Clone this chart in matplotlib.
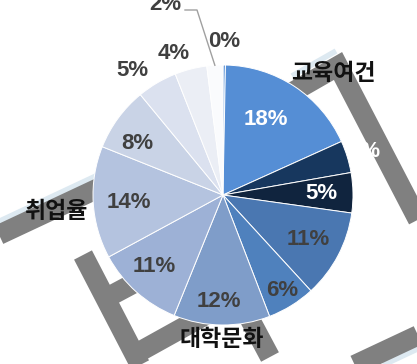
import matplotlib.pyplot as plt
import numpy as np

# 항목별 비율 (시계 방향, 12시 방향부터)
values = [0.3, 18, 4, 5, 11, 6, 12, 11, 14, 8, 5, 4, 2]
colors = ['#558ed5', '#558ed5', '#17375e', '#10243e', '#4a77b1', '#4f81bd',
          '#7f9dc9', '#9db1d6', '#b4c3df', '#c9d3e6', '#dbe1ef', '#ebeef5', '#fafbfd']
label_colors = ['#404040', 'white', 'white', 'white', '#404040', '#404040', '#404040',
                '#404040', '#404040', '#404040', '#404040', '#404040', '#404040']
label_r = [1.18, 0.67, 1.14, 0.76, 0.74, 0.86, 0.82, 0.76, 0.73, 0.77, 1.18, 1.15, None]
label_nudge = [0, 3.6, 0, 0, 0, 0, -1.5, -2, 1.5, 5, 5.5, 5, 0]

groups = ['교육여건', '취업율', '대학문화']
group_pos = [(333, 73), (57, 211), (222, 340)]

W, H = 417, 364
fig = plt.figure(figsize=(W / 100, H / 100), dpi=100)
ax = fig.add_axes([0, 0, 1, 1])


def px(x, y):
    return x, H - y


# 배경 워터마크 (회전된 글자 모양)
strokes = [
    [(195, 148), (338, 66), (440, 262)],
    [(-10, 239), (150, 164)],
    [(83, 255), (152, 388)],
    [(110, 296), (200, 248)],
    [(130, 357), (238, 297), (270, 357)],
    [(310, 386), (440, 325)],
]
glow = [
    [(-15, 228), (145, 153)],
    [(315, 397), (445, 336)],
    [(292, 76), (336, 51)],
]
for g in glow:
    xs, ys = zip(*[px(*p) for p in g])
    ax.plot(xs, ys, color='#dde9f1', lw=4, solid_capstyle='butt', zorder=0)
for s in strokes:
    xs, ys = zip(*[px(*p) for p in s])
    ax.plot(xs, ys, color='#808080', lw=14.5, solid_capstyle='butt',
            solid_joinstyle='miter', zorder=1)

cx, cy = px(223, 195)
R = 130
wedges, _ = ax.pie(values, colors=colors, startangle=90, counterclock=False,
                   center=(cx, cy), radius=R,
                   wedgeprops=dict(edgecolor='white', linewidth=0.7))
for w in wedges:
    w.set_zorder(2)

total = sum(values)
for i, w in enumerate(wedges):
    pct = values[i] / total * 100
    mid = np.deg2rad((w.theta1 + w.theta2) / 2 + label_nudge[i])
    txt = f'{pct:.0f}%'
    if label_r[i] is None:
        # 작은 조각은 지시선으로 표시
        ex, ey = cx + R * np.cos(mid), cy + R * np.sin(mid)
        lx, ly = px(197, 10)
        ax.plot([ex, lx, lx - 12], [ey, ly, ly], color='#a0a0a0', lw=1, zorder=3)
        ax.text(*px(165, 5), txt, ha='center', va='center', fontsize=16,
                fontweight='bold', color=label_colors[i],
                family='Liberation Sans', zorder=4)
        continue
    r = label_r[i] * R
    ax.text(cx + r * np.cos(mid), cy + r * np.sin(mid), txt, ha='center', va='center',
            fontsize=16, fontweight='bold', color=label_colors[i],
            family='Liberation Sans', zorder=4)

for name, (gx, gy) in zip(groups, group_pos):
    ax.text(*px(gx, gy), name, ha='center', va='center', fontsize=16.5,
            fontweight='bold', color='#111111',
            family=['Noto Sans CJK KR', 'DejaVu Sans'], zorder=4)

ax.set_xlim(0, W)
ax.set_ylim(0, H)
ax.set_aspect('auto')
ax.axis('off')
fig.savefig('out.png', dpi=100)
